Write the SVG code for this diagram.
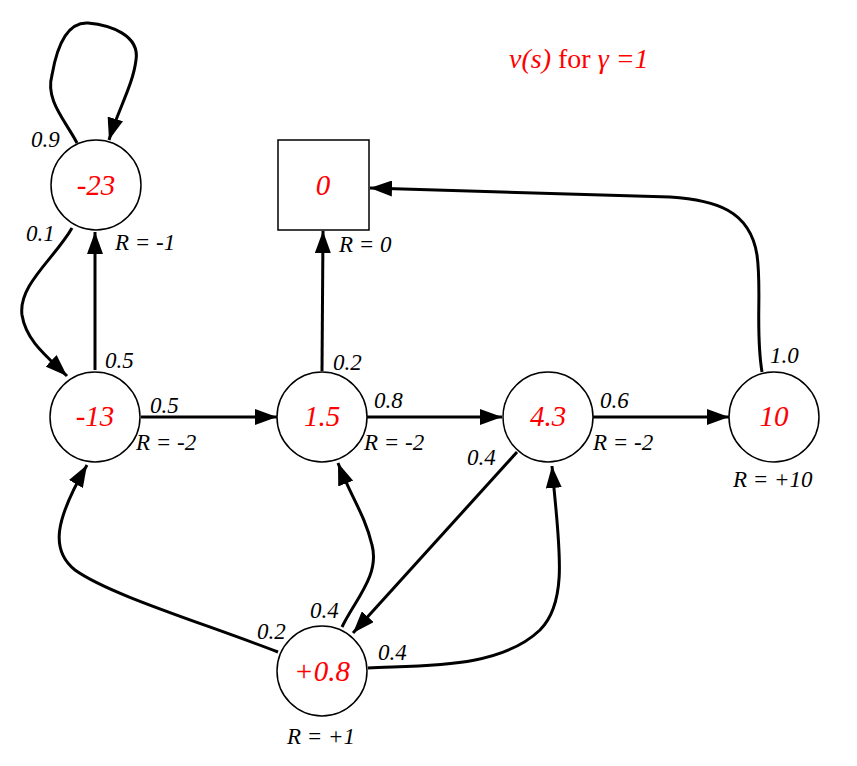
<svg xmlns="http://www.w3.org/2000/svg" width="857" height="766" viewBox="0 0 857 766">
<defs>
<marker id="arr" markerUnits="userSpaceOnUse" markerWidth="22" markerHeight="16" refX="22" refY="8" orient="auto" viewBox="0 0 22 16">
<path d="M0,0 L22,8 L0,16 z" fill="#000"/>
</marker>
<style>
.node{fill:#fff;stroke:#000;stroke-width:1.5}
.val{font-family:"Liberation Serif",serif;font-style:italic;font-size:29px;fill:#ff0000;text-anchor:middle}
.lbl{font-family:"Liberation Serif",serif;font-style:italic;font-size:23px;fill:#000}
.edge{fill:none;stroke:#000;stroke-width:3}
.title{font-family:"Liberation Serif",serif;font-size:28px;fill:#ff0000}
</style>
</defs>
<rect width="857" height="766" fill="#fff"/>
<text class="title" x="509" y="68"><tspan font-style="italic">v(s)</tspan> for <tspan font-style="italic">γ =1</tspan></text>
<g id="connectors">
<path class="edge" marker-end="url(#arr)" d="M77,143 C 65,120 45,100 52,75 C 58,40 70,22 88,23 C 110,25 140,35 136,60 C 133,85 118,110 109,140"/>
<path class="edge" marker-end="url(#arr)" d="M72,228 C 55,258 18,285 22,315 C 26,340 45,355 67,376"/>
<path class="edge" marker-end="url(#arr)" d="M95,370 L95,232"/>
<path class="edge" marker-end="url(#arr)" d="M141,417 L277,417"/>
<path class="edge" marker-end="url(#arr)" d="M322,371 L323,231"/>
<path class="edge" marker-end="url(#arr)" d="M367,417 L502,417"/>
<path class="edge" marker-end="url(#arr)" d="M593,417 L729,417"/>
<path class="edge" marker-end="url(#arr)" d="M762,372 C 755,330 762,290 757,255 C 750,210 715,200 670,197 C 560,193 450,190 370,188"/>
<path class="edge" marker-end="url(#arr)" d="M517,452 L353,633"/>
<path class="edge" marker-end="url(#arr)" d="M342,627 C 355,600 380,575 372,545 C 365,515 350,495 338,463"/>
<path class="edge" marker-end="url(#arr)" d="M278,652 C 200,622 110,595 75,570 C 50,550 55,520 87,465"/>
<path class="edge" marker-end="url(#arr)" d="M368,668 C 430,665 500,668 540,630 C 570,600 558,540 552,466"/>
</g>
<g id="n-23"><circle class="node" cx="96" cy="185" r="45"/><text class="val" x="96" y="195">-23</text></g>
<g id="n0"><rect class="node" x="278" y="140" width="91" height="90"/><text class="val" x="323" y="195">0</text></g>
<g id="n-13"><circle class="node" cx="95" cy="417" r="45"/><text class="val" x="95" y="426">-13</text></g>
<g id="n1_5"><circle class="node" cx="322" cy="417" r="45"/><text class="val" x="322" y="426">1.5</text></g>
<g id="n4_3"><circle class="node" cx="548" cy="417" r="45"/><text class="val" x="548" y="426">4.3</text></g>
<g id="n10"><circle class="node" cx="774" cy="417" r="45"/><text class="val" x="774" y="426">10</text></g>
<g id="n0_8"><circle class="node" cx="322" cy="671" r="45"/><text class="val" x="322" y="681">+0.8</text></g>
<g id="labels">
<text class="lbl" x="31" y="147">0.9</text>
<text class="lbl" x="26" y="241">0.1</text>
<text class="lbl" x="115" y="250">R = -1</text>
<text class="lbl" x="339" y="252">R = 0</text>
<text class="lbl" x="105" y="368">0.5</text>
<text class="lbl" x="150" y="413">0.5</text>
<text class="lbl" x="136" y="450">R = -2</text>
<text class="lbl" x="333" y="370">0.2</text>
<text class="lbl" x="374" y="408">0.8</text>
<text class="lbl" x="364" y="450">R = -2</text>
<text class="lbl" x="467" y="465">0.4</text>
<text class="lbl" x="600" y="408">0.6</text>
<text class="lbl" x="593" y="450">R = -2</text>
<text class="lbl" x="770" y="363">1.0</text>
<text class="lbl" x="733" y="487">R = +10</text>
<text class="lbl" x="257" y="639">0.2</text>
<text class="lbl" x="310" y="618">0.4</text>
<text class="lbl" x="378" y="660">0.4</text>
<text class="lbl" x="287" y="744">R = +1</text>
</g>
</svg>
